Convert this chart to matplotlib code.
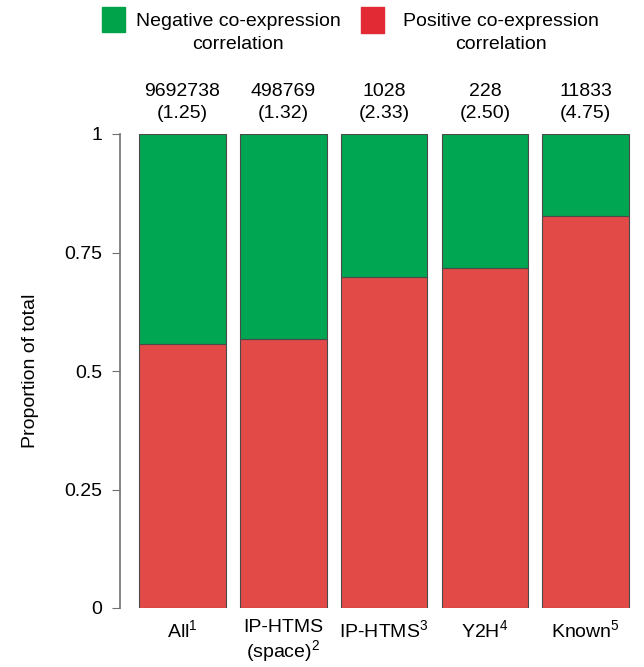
import matplotlib
matplotlib.use("Agg")
import matplotlib.pyplot as plt
import numpy as np
from matplotlib.patches import Rectangle

plt.rcParams['font.family'] = ['Liberation Sans', 'DejaVu Sans']
plt.rcParams['mathtext.fontset'] = 'custom'
plt.rcParams['mathtext.rm'] = 'Liberation Sans'
plt.rcParams['mathtext.default'] = 'regular'

# data
categories = ['All$^{1}$', 'IP-HTMS\n(space)$^{2}$', 'IP-HTMS$^{3}$', 'Y2H$^{4}$', 'Known$^{5}$']
positive = [0.556, 0.567, 0.699, 0.717, 0.828]
negative = [1 - p for p in positive]
counts = ['9692738', '498769', '1028', '228', '11833']
ratios = ['(1.25)', '(1.32)', '(2.33)', '(2.50)', '(4.75)']

green = '#00a651'
red = '#e24a47'
edge = '#4a4a4a'
fs = 14

fig = plt.figure(figsize=(6.44, 6.67), dpi=100)
ax = fig.add_axes([120 / 644, 59 / 667, 511 / 644, 474 / 667])

x = np.arange(len(categories))
w = 0.86
ax.bar(x, positive, w, color=red, edgecolor=edge, linewidth=0.8)
ax.bar(x, negative, w, bottom=positive, color=green, edgecolor=edge, linewidth=0.8)

ax.set_xlim(-0.62, 4.45)
ax.set_ylim(0, 1)
ax.set_yticks([0, 0.25, 0.5, 0.75, 1])
ax.set_yticklabels(['0', '0.25', '0.5', '0.75', '1'])
ax.set_xticks(x)
ax.set_xticklabels(categories, fontsize=fs, va='top', linespacing=1.1)
ax.tick_params(axis='x', length=0, pad=8)
ax.tick_params(axis='y', length=6, color='#707070', labelsize=fs, pad=7)
for s in ['top', 'right', 'bottom']:
    ax.spines[s].set_visible(False)
ax.spines['left'].set_color('#707070')
ax.spines['left'].set_linewidth(1.2)
ax.set_ylabel('Proportion of total', fontsize=fs, labelpad=18)

# counts above bars
for i in range(len(categories)):
    ax.text(x[i], 1.025, counts[i] + '\n' + ratios[i], ha='center', va='bottom',
            fontsize=fs, linespacing=1.4)

# legend at top
fig.patches.append(Rectangle((102 / 644, 1 - 32 / 667), 23 / 644, 25 / 667,
                             transform=fig.transFigure, color='#00a24a'))
fig.text(238 / 644, 1 - 13 / 667, 'Negative co-expression\ncorrelation', ha='center',
         va='top', fontsize=fs, linespacing=1.45)
fig.patches.append(Rectangle((361 / 644, 1 - 33 / 667), 23 / 644, 26 / 667,
                             transform=fig.transFigure, color='#e12a33'))
fig.text(501 / 644, 1 - 13 / 667, 'Positive co-expression\ncorrelation', ha='center',
         va='top', fontsize=fs, linespacing=1.45)

fig.savefig('out.png', dpi=100)
